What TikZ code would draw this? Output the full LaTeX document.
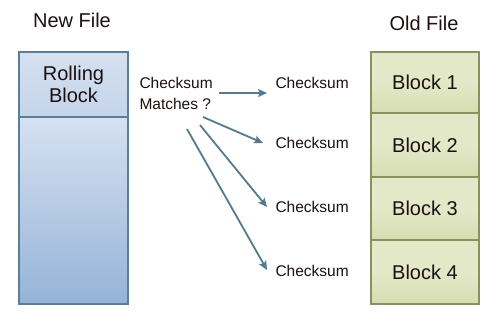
\documentclass[tikz,border=0pt]{standalone}
\usepackage{fontspec}
\setmainfont{Liberation Sans}
\usetikzlibrary{arrows.meta,calc}
\definecolor{bluefill}{HTML}{C4D4EA}
\definecolor{bluedeep}{HTML}{95B3D7}
\definecolor{blueedge}{HTML}{5A7E96}
\definecolor{olivefill}{HTML}{E3E9C8}
\definecolor{olivedeep}{HTML}{D6DDB0}
\definecolor{oliveedge}{HTML}{8A9160}
\definecolor{arrowcol}{HTML}{557A8E}
\definecolor{ink}{HTML}{1C1010}
\begin{document}
\begin{tikzpicture}[x=1pt,y=-1pt,
  title/.style={font=\fontsize{20}{24}\selectfont, text=ink},
  blocklabel/.style={font=\fontsize{20}{24}\selectfont, text=ink, align=center},
  small/.style={font=\fontsize{15.5}{21}\selectfont, text=ink},
  newblock/.style={draw=blueedge, line width=1.6pt},
  oldblock/.style={draw=oliveedge, line width=1.6pt, top color=olivefill, bottom color=olivedeep, middle color=olivefill},
  link/.style={draw=arrowcol, line width=1.8pt, -{Stealth[length=9pt,width=8pt,inset=2pt]}}
]
\useasboundingbox (0,0) rectangle (501,330);

% titles
\node[title] (newtitle) at (72,20) {New File};
\node[title] (oldtitle) at (424,23) {Old File};

% new file: rolling block on top of the remaining data
\path[newblock, top color=bluefill!70!white, bottom color=bluedeep] (19,117) rectangle (128,304);
\path[newblock, top color=bluefill!70!white, bottom color=bluefill] (19,52) rectangle (128,117);
\node[blocklabel] (rolling) at (73.5,84) {Rolling\\[-2pt]Block};

% old file blocks
\foreach \i/\ya/\yb in {1/52/113, 2/113/177, 3/177/240, 4/240/304}{
  \path[oldblock] (371,\ya) rectangle (479,\yb);
  \node[blocklabel] (block\i) at (425,{(\ya+\yb)/2}) {Block \i};
}

% checksum question and candidate checksums
\node[small, align=left, anchor=west] (query) at (136,93.5) {Checksum\\Matches ?};
\node[small, anchor=west] (sum1) at (272,83) {Checksum};
\node[small, anchor=west] (sum2) at (272,143) {Checksum};
\node[small, anchor=west] (sum3) at (272,207) {Checksum};
\node[small, anchor=west] (sum4) at (272,271) {Checksum};

% arrow ends
\coordinate (from1) at (219,93);
\coordinate (from2) at (203,117);
\coordinate (from3) at (200,125);
\coordinate (from4) at (187,129);
\coordinate (to1) at ($(sum1.west)+(-5,10)$);
\coordinate (to2) at ($(sum2.west)+(-9,0)$);
\coordinate (to3) at ($(sum3.west)+(-5,0)$);
\coordinate (to4) at ($(sum4.west)+(-5,-1)$);
\foreach \i in {1,...,4}{
  \draw[link] (from\i) -- (to\i);
}
\end{tikzpicture}
\end{document}
